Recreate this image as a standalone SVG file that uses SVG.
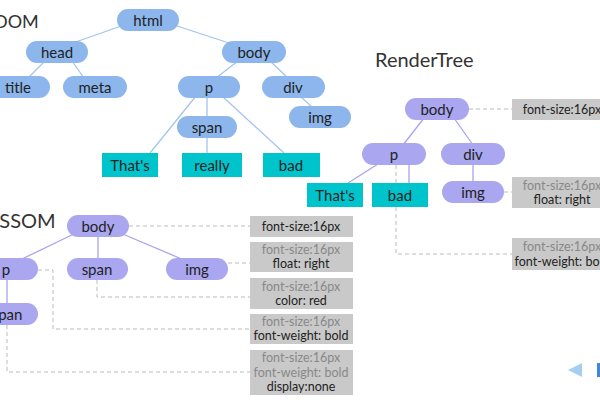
<svg xmlns="http://www.w3.org/2000/svg" width="600" height="400" viewBox="0 0 600 400">
<style>
text{font-family:Lato,"Open Sans","Liberation Sans",sans-serif;fill:#222}
.t{font-size:20px;fill:#333}
.d rect{fill:#8cb6ec}
.r rect{fill:#aaa6f0}
.w rect{fill:#00c4cc}
.n text{font-size:15px;text-anchor:middle;dominant-baseline:central}
.bl{stroke:#a3c4ee;stroke-width:1.3;fill:none}
.pl{stroke:#a9a4ee;stroke-width:1.3;fill:none}
.ds{stroke:#bbb;stroke-width:1;stroke-dasharray:4,3;fill:none}
.b rect{fill:#c9c9c9}
.b text{font-size:12.5px;text-anchor:middle}
.g{fill:#888}
</style>
<rect width="600" height="400" fill="#fff"/>
<text class="t" x="-6" y="28" style="font-size:18px">DOM</text>
<text class="t" x="375" y="67">RenderTree</text>
<text class="t" x="-14" y="228">CSSOM</text>
<g id="connectors">
<path class="bl" d="M124,25 L70,44 M174,25 L232,44 M45,61 L28,78 M72,61 L84,78 M238,61 L216,78 M270,61 L288,78 M300,96 L313,108 M196,96 L150,153 M207,98 L207,116 M222,96 L284,153 M207,138 L207,153"/>
<path class="pl" d="M424,118 L403,145 M454,118 L473,145 M378,164 L348,183 M409,165 L409,183 M473,165 L473,181"/>
<path class="pl" d="M80,231 L20,260 M98,237 L98,258 M118,232 L184,260 M7,280 L7,303"/>
<path class="ds" d="M469,109 L512,109 M504,192 L512,192 M396,165 L396,254 L512,254"/>
<path class="ds" d="M129,226 L250,226 M228,263 L250,263 M97,280 L97,297 L250,297 M38,270 L53,270 L53,329 L250,329 M7,325 L7,372 L250,372"/>
</g>
<g id="dom-html" class="n d"><rect x="117" y="9" width="62" height="22" rx="11"/><text x="148" y="20">html</text></g>
<g id="dom-head" class="n d"><rect x="26" y="41" width="62" height="22" rx="11"/><text x="57" y="52">head</text></g>
<g id="dom-title" class="n d"><rect x="-14" y="76" width="64" height="22" rx="11"/><text x="18" y="87">title</text></g>
<g id="dom-meta" class="n d"><rect x="63" y="76" width="64" height="22" rx="11"/><text x="95" y="87">meta</text></g>
<g id="dom-body" class="n d"><rect x="222" y="41" width="64" height="22" rx="11"/><text x="254" y="52">body</text></g>
<g id="dom-p" class="n d"><rect x="178" y="76" width="62" height="22" rx="11"/><text x="209" y="87">p</text></g>
<g id="dom-div" class="n d"><rect x="262" y="76" width="63" height="22" rx="11"/><text x="293" y="87">div</text></g>
<g id="dom-img" class="n d"><rect x="289" y="106" width="62" height="22" rx="11"/><text x="320" y="117">img</text></g>
<g id="dom-span" class="n d"><rect x="177" y="116" width="60" height="22" rx="11"/><text x="207" y="127">span</text></g>
<g id="dom-thats" class="n w"><rect x="102" y="153" width="56" height="24"/><text x="130" y="165">That's</text></g>
<g id="dom-really" class="n w"><rect x="182" y="153" width="60" height="24"/><text x="212" y="165">really</text></g>
<g id="dom-bad" class="n w"><rect x="263" y="153" width="57" height="24"/><text x="291" y="165">bad</text></g>
<g id="rt-body" class="n r"><rect x="405" y="98" width="64" height="22" rx="11"/><text x="437" y="109">body</text></g>
<g id="rt-p" class="n r"><rect x="362" y="143" width="64" height="22" rx="11"/><text x="394" y="154">p</text></g>
<g id="rt-div" class="n r"><rect x="441" y="143" width="64" height="22" rx="11"/><text x="473" y="154">div</text></g>
<g id="rt-img" class="n r"><rect x="442" y="181" width="62" height="22" rx="11"/><text x="473" y="192">img</text></g>
<g id="rt-thats" class="n w"><rect x="307" y="183" width="56" height="24"/><text x="335" y="195">That's</text></g>
<g id="rt-bad" class="n w"><rect x="372" y="183" width="56" height="24"/><text x="400" y="195">bad</text></g>
<g id="rt-box1" class="b"><rect x="512" y="99" width="100" height="21"/><text x="562" y="114">font-size:16px</text></g>
<g id="rt-box2" class="b"><rect x="512" y="177" width="100" height="31"/><text x="562" y="190" class="g">font-size:16px</text><text x="562" y="204">float: right</text></g>
<g id="rt-box3" class="b"><rect x="512" y="238" width="100" height="32"/><text x="562" y="251" class="g">font-size:16px</text><text x="562" y="266">font-weight: bold</text></g>
<g id="cs-body" class="n r"><rect x="67" y="215" width="62" height="22" rx="11"/><text x="98" y="226">body</text></g>
<g id="cs-p" class="n r"><rect x="-26" y="258" width="64" height="22" rx="11"/><text x="6" y="269">p</text></g>
<g id="cs-span" class="n r"><rect x="67" y="258" width="61" height="22" rx="11"/><text x="97" y="269">span</text></g>
<g id="cs-img" class="n r"><rect x="166" y="258" width="62" height="22" rx="11"/><text x="197" y="269">img</text></g>
<g id="cs-span2" class="n r"><rect x="-24" y="303" width="62" height="22" rx="11"/><text x="7" y="314">span</text></g>
<g id="cs-box1" class="b"><rect x="250" y="216" width="103" height="21"/><text x="301" y="231">font-size:16px</text></g>
<g id="cs-box2" class="b"><rect x="250" y="242" width="103" height="30"/><text x="301" y="254" class="g">font-size:16px</text><text x="301" y="268">float: right</text></g>
<g id="cs-box3" class="b"><rect x="250" y="278" width="103" height="31"/><text x="301" y="291" class="g">font-size:16px</text><text x="301" y="305">color: red</text></g>
<g id="cs-box4" class="b"><rect x="250" y="314" width="103" height="30"/><text x="301" y="326" class="g">font-size:16px</text><text x="301" y="340">font-weight: bold</text></g>
<g id="cs-box5" class="b"><rect x="250" y="350" width="103" height="45"/><text x="301" y="362" class="g">font-size:16px</text><text x="301" y="377" class="g">font-weight: bold</text><text x="301" y="391">display:none</text></g>
<polygon points="568,370 582,363 582,377" fill="#a8cdf2"/>
<rect x="597" y="363" width="4" height="14" fill="#3f86e0"/>
</svg>
